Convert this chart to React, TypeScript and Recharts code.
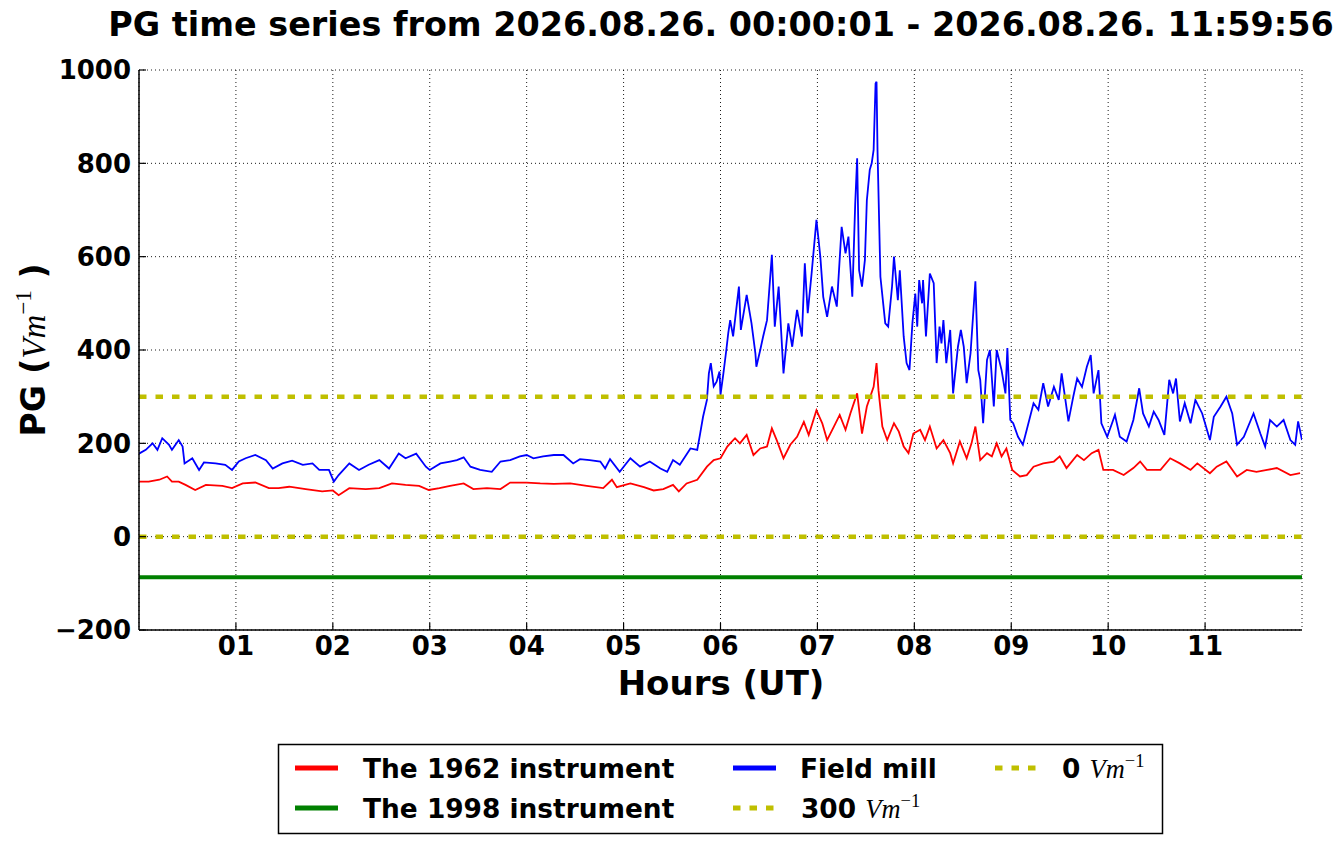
import React from 'react';
import { LineChart, Line, XAxis, YAxis, CartesianGrid } from 'recharts';

const hourTicks = [1, 2, 3, 4, 5, 6, 7, 8, 9, 10, 11];
const hourTickLabels = ['01', '02', '03', '04', '05', '06', '07', '08', '09', '10', '11'];
const pgTicks = [-200, 0, 200, 400, 600, 800, 1000];
const pgTickLabels = ['\u2212200', '0', '200', '400', '600', '800', '1000'];

const titleText = 'PG time series from 2026.08.26. 00:00:01 - 2026.08.26. 11:59:56';

// [hour (UT), PG in V/m]
const instrument1962: [number, number][] = [
  [0, 118], [0.1, 118], [0.21, 122], [0.29, 129], [0.34, 118], [0.41, 118], [0.48, 111], [0.58, 100],
  [0.69, 111], [0.86, 109], [0.96, 104], [1.07, 114], [1.2, 116], [1.34, 104], [1.44, 104], [1.55, 107],
  [1.72, 102], [1.89, 97], [2.0, 99], [2.06, 89], [2.17, 104], [2.34, 102], [2.48, 104], [2.61, 114],
  [2.75, 111], [2.89, 109], [2.99, 100], [3.1, 104], [3.21, 109], [3.35, 114], [3.45, 102], [3.59, 104],
  [3.73, 102], [3.83, 116], [4.0, 116], [4.14, 114], [4.28, 113], [4.45, 114], [4.62, 109], [4.79, 104],
  [4.88, 122], [4.93, 106], [5.07, 114], [5.21, 106], [5.31, 99], [5.41, 102], [5.51, 111], [5.57, 97],
  [5.65, 114], [5.76, 122], [5.86, 150], [5.93, 164], [6.0, 168], [6.07, 193], [6.1, 200], [6.15, 211],
  [6.2, 200], [6.27, 218], [6.34, 175], [6.41, 189], [6.48, 193], [6.53, 232], [6.58, 207], [6.65, 168],
  [6.72, 197], [6.79, 214], [6.86, 246], [6.91, 218], [6.99, 271], [7.05, 243], [7.1, 207], [7.17, 236],
  [7.23, 261], [7.29, 229], [7.34, 264], [7.41, 307], [7.46, 221], [7.51, 279], [7.58, 321], [7.61, 372],
  [7.63, 314], [7.67, 236], [7.72, 207], [7.79, 243], [7.84, 225], [7.89, 193], [7.94, 179], [7.99, 221],
  [8.06, 229], [8.11, 207], [8.16, 236], [8.23, 189], [8.3, 207], [8.37, 179], [8.4, 157], [8.47, 204],
  [8.54, 168], [8.59, 200], [8.63, 236], [8.68, 164], [8.75, 179], [8.8, 172], [8.85, 200], [8.9, 172],
  [8.95, 189], [9.01, 143], [9.09, 129], [9.16, 132], [9.23, 150], [9.33, 157], [9.44, 161], [9.5, 172],
  [9.57, 147], [9.68, 175], [9.75, 164], [9.83, 179], [9.9, 186], [9.95, 143], [10.05, 143], [10.16, 132],
  [10.26, 147], [10.33, 161], [10.4, 143], [10.54, 143], [10.64, 168], [10.74, 157], [10.85, 143],
  [10.92, 157], [11.05, 136], [11.12, 150], [11.22, 161], [11.33, 129], [11.43, 143], [11.53, 139],
  [11.64, 143], [11.74, 147], [11.88, 132], [11.98, 136],
];

const instrument1998: [number, number][] = [
  [0, -87], [2, -87], [4, -87], [6, -87], [8, -87], [10, -87], [12, -87],
];

const fieldMill: [number, number][] = [
  [0, 178], [0.07, 186], [0.14, 200], [0.19, 186], [0.24, 211], [0.31, 197], [0.34, 186], [0.41, 207],
  [0.45, 193], [0.47, 157], [0.55, 168], [0.62, 143], [0.67, 159], [0.79, 157], [0.89, 154], [0.96, 143],
  [1.03, 161], [1.1, 168], [1.2, 175], [1.31, 164], [1.38, 146], [1.48, 157], [1.58, 163], [1.69, 154],
  [1.79, 157], [1.86, 143], [1.96, 143], [2.01, 118], [2.06, 132], [2.17, 157], [2.27, 143], [2.37, 154],
  [2.48, 164], [2.58, 146], [2.68, 178], [2.75, 168], [2.86, 178], [2.96, 150], [3.0, 143], [3.11, 157],
  [3.21, 161], [3.28, 164], [3.35, 170], [3.42, 150], [3.52, 143], [3.64, 139], [3.73, 161], [3.83, 164],
  [3.93, 172], [4.0, 175], [4.07, 168], [4.17, 172], [4.28, 175], [4.38, 175], [4.48, 157], [4.55, 166],
  [4.65, 164], [4.76, 161], [4.81, 146], [4.86, 166], [4.96, 139], [5.07, 168], [5.17, 150], [5.27, 161],
  [5.38, 146], [5.45, 139], [5.51, 164], [5.58, 154], [5.69, 189], [5.76, 186], [5.79, 221], [5.82, 257],
  [5.86, 293], [5.88, 350], [5.9, 372], [5.93, 322], [5.96, 332], [5.99, 354], [6.0, 304], [6.03, 350],
  [6.06, 400], [6.08, 436], [6.1, 464], [6.13, 429], [6.19, 536], [6.21, 443], [6.27, 518], [6.32, 457],
  [6.36, 393], [6.37, 364], [6.41, 400], [6.44, 429], [6.48, 464], [6.53, 604], [6.56, 450], [6.6, 536],
  [6.65, 350], [6.7, 457], [6.74, 407], [6.79, 486], [6.84, 429], [6.87, 586], [6.9, 479], [6.94, 564],
  [6.99, 679], [7.03, 600], [7.06, 514], [7.1, 471], [7.15, 536], [7.2, 493], [7.25, 664], [7.29, 607],
  [7.32, 643], [7.36, 514], [7.39, 714], [7.41, 811], [7.43, 571], [7.46, 536], [7.49, 593], [7.51, 721],
  [7.54, 786], [7.56, 800], [7.58, 829], [7.6, 971], [7.61, 975], [7.62, 829], [7.65, 557], [7.7, 457],
  [7.73, 450], [7.77, 536], [7.79, 600], [7.83, 507], [7.85, 571], [7.89, 429], [7.92, 372], [7.95, 357],
  [7.98, 457], [8.01, 521], [8.03, 450], [8.05, 550], [8.08, 500], [8.09, 550], [8.12, 429], [8.16, 564],
  [8.2, 543], [8.23, 372], [8.26, 450], [8.28, 414], [8.3, 464], [8.33, 372], [8.37, 443], [8.4, 307],
  [8.45, 407], [8.48, 443], [8.51, 407], [8.54, 329], [8.58, 393], [8.63, 547], [8.66, 357], [8.68, 336],
  [8.71, 243], [8.75, 379], [8.78, 400], [8.82, 279], [8.85, 400], [8.9, 357], [8.94, 307], [8.96, 404],
  [8.99, 250], [9.02, 243], [9.07, 214], [9.12, 197], [9.16, 229], [9.23, 286], [9.28, 272], [9.33, 329],
  [9.38, 279], [9.44, 321], [9.49, 293], [9.52, 350], [9.59, 247], [9.64, 300], [9.68, 339], [9.73, 321],
  [9.78, 364], [9.82, 389], [9.85, 307], [9.9, 357], [9.93, 243], [9.99, 214], [10.04, 243], [10.07, 261],
  [10.12, 214], [10.19, 204], [10.26, 250], [10.32, 318], [10.36, 264], [10.42, 236], [10.47, 268],
  [10.52, 250], [10.58, 218], [10.63, 336], [10.67, 307], [10.7, 339], [10.74, 247], [10.79, 286],
  [10.85, 243], [10.9, 293], [10.97, 264], [11.05, 207], [11.09, 257], [11.16, 279], [11.22, 300],
  [11.28, 264], [11.33, 197], [11.4, 214], [11.5, 264], [11.57, 221], [11.62, 193], [11.67, 250],
  [11.74, 236], [11.81, 250], [11.88, 207], [11.93, 197], [11.96, 247], [12.0, 207],
];

const level300: [number, number][] = [[0, 300], [12, 300]];
const level0: [number, number][] = [[0, 0], [12, 0]];

const toRows = (a: [number, number][]) => a.map(([t, v]) => ({ t, v }));

const FONT = 'DejaVu Sans';
const MATH = 'Liberation Serif';
const RED = '#ff0000';
const GREEN = '#008000';
const BLUE = '#0000ff';
const YEL = '#bfbf00';
const DASH = '7.5 9';

const tickStyle = { fill: '#000', fontSize: 26, fontWeight: 700, fontFamily: FONT };
const axisLineStyle = { stroke: '#000', strokeWidth: 1.5 };
const tickLineStyle = { stroke: '#000', strokeWidth: 1.2 };

function Unit({ size }: { size: number }) {
  return (
    <>
      <tspan fontFamily={MATH} fontStyle="italic" fontWeight="normal">Vm</tspan>
      <tspan fontFamily={MATH} fontWeight="normal" fontSize={size * 0.7} dy={-size * 0.42}>{'\u22121'}</tspan>
    </>
  );
}

export default function App() {
  return (
    <div style={{ position: 'absolute', left: 0, top: 0, width: 1342, height: 844, background: '#fff' }}>
      <LineChart
        width={1342}
        height={844}
        margin={{ top: 70, right: 40, bottom: 174, left: 0 }}
      >
        <CartesianGrid stroke="#000" strokeWidth={0.9} strokeDasharray="1 3" />
        <XAxis
          dataKey="t"
          type="number"
          domain={[0, 12]}
          ticks={hourTicks}
          interval={0}
          allowDataOverflow
          tickFormatter={(v: number) => hourTickLabels[hourTicks.indexOf(v)]}
          tickSize={-7}
          tickMargin={14}
          height={40}
          axisLine={axisLineStyle}
          tickLine={tickLineStyle}
          tick={tickStyle}
        />
        <XAxis
          xAxisId="top"
          orientation="top"
          dataKey="t"
          type="number"
          domain={[0, 12]}
          ticks={hourTicks}
          interval={0}
          allowDataOverflow
          tickFormatter={() => ''}
          tickSize={-7}
          height={0}
          axisLine={axisLineStyle}
          tickLine={tickLineStyle}
          tick={tickStyle}
        />
        <YAxis
          type="number"
          domain={[-200, 1000]}
          ticks={pgTicks}
          interval={0}
          allowDataOverflow
          tickFormatter={(v: number) => pgTickLabels[pgTicks.indexOf(v)]}
          tickSize={-7}
          tickMargin={15}
          width={139}
          axisLine={axisLineStyle}
          tickLine={tickLineStyle}
          tick={tickStyle}
        />
        <YAxis
          yAxisId="right"
          orientation="right"
          type="number"
          domain={[-200, 1000]}
          ticks={pgTicks}
          interval={0}
          allowDataOverflow
          tickFormatter={() => ''}
          tickSize={-7}
          width={0}
          axisLine={axisLineStyle}
          tickLine={tickLineStyle}
          tick={tickStyle}
        />
        <Line data={toRows(instrument1962)} dataKey="v" stroke={RED} strokeWidth={1.8} dot={false} isAnimationActive={false} type="linear" />
        <Line data={toRows(instrument1998)} dataKey="v" stroke={GREEN} strokeWidth={4} dot={false} isAnimationActive={false} type="linear" />
        <Line data={toRows(fieldMill)} dataKey="v" stroke={BLUE} strokeWidth={1.8} dot={false} isAnimationActive={false} type="linear" />
        <Line data={toRows(level300)} dataKey="v" stroke={YEL} strokeWidth={4.5} strokeDasharray={DASH} dot={false} isAnimationActive={false} type="linear" />
        <Line data={toRows(level0)} dataKey="v" stroke={YEL} strokeWidth={4.5} strokeDasharray={DASH} dot={false} isAnimationActive={false} type="linear" />
      </LineChart>
      <svg
        width={1342}
        height={844}
        style={{ position: 'absolute', left: 0, top: 0, pointerEvents: 'none', overflow: 'visible' }}
        fontFamily={FONT}
        fontWeight={700}
      >
        <text x={721} y={36} textAnchor="middle" fontSize={33.4}>{titleText}</text>
        <text x={721} y={695} textAnchor="middle" fontSize={34}>Hours (UT)</text>
        <text transform="translate(45,350) rotate(-90)" textAnchor="middle" fontSize={33}>
          PG (<tspan dx={6}></tspan><Unit size={33} /><tspan dy={33 * 0.42}> )</tspan>
        </text>
        <rect x={278.5} y={744.5} width={884} height={89} fill="#fff" stroke="#000" strokeWidth={1.5} />
        <g fontSize={26.4}>
          <line x1={295} x2={338} y1={768} y2={768} stroke={RED} strokeWidth={5} />
          <text x={363} y={778}>The 1962 instrument</text>
          <line x1={295} x2={338} y1={808} y2={808} stroke={GREEN} strokeWidth={5} />
          <text x={363} y={818}>The 1998 instrument</text>
          <line x1={733} x2={776} y1={768} y2={768} stroke={BLUE} strokeWidth={5} />
          <text x={800} y={778}>Field mill</text>
          <line x1={733} x2={774} y1={808} y2={808} stroke={YEL} strokeWidth={5} strokeDasharray={DASH} />
          <text x={801} y={818}>300 <Unit size={26.4} /></text>
          <line x1={995} x2={1036} y1={768} y2={768} stroke={YEL} strokeWidth={5} strokeDasharray={DASH} />
          <text x={1062} y={778}>0 <Unit size={26.4} /></text>
        </g>
      </svg>
    </div>
  );
}
